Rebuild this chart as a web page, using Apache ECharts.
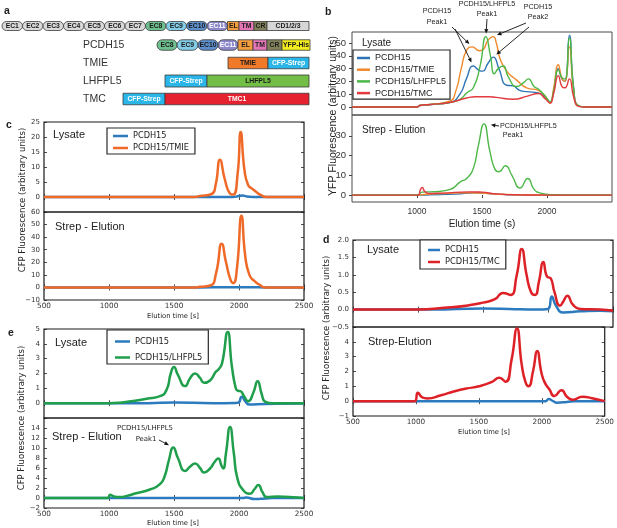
<!DOCTYPE html>
<html>
<head>
<meta charset="utf-8">
<title>PCDH15 complexes - FSEC traces</title>
<script src="https://cdn.jsdelivr.net/npm/echarts@6.0.0/dist/echarts.min.js"></script>
<style>
  html, body { margin: 0; padding: 0; background: #fff; }
  #container { width: 617px; height: 528px; }
</style>
</head>
<body>
<div id="container"></div>
<script>
// ---- a: constructs (domain names and their drawn lengths) ----
var fullDomains = ['EC1', 'EC2', 'EC3', 'EC4', 'EC5', 'EC6', 'EC7', 'EC8', 'EC9', 'EC10', 'EC11', 'EL', 'TM', 'CR', 'CD1/2/3'];
var fullLengths = [20.5, 20.5, 20.5, 20.5, 20.5, 20.5, 20.5, 20.5, 20.5, 20.5, 20.5, 11.5, 15, 13, 42];
var pcdh15Domains = ['EC8', 'EC9', 'EC10', 'EC11', 'EL', 'TM', 'CR', 'YFP-His'];
var pcdh15Lengths = [20, 21, 20, 20, 15, 14, 15, 28];
var tmieDomains = ['TMIE', 'CFP-Strep'];
var tmieLengths = [40, 41];
var lhfpl5Domains = ['CFP-Strep', 'LHFPL5'];
var lhfpl5Lengths = [42, 102];
var tmcDomains = ['CFP-Strep', 'TMC1'];
var tmcLengths = [42, 144];
var constructNames = ['', 'PCDH15', 'TMIE', 'LHFPL5', 'TMC'];

// ---- b: YFP FSEC  [elution time (s), signal] ----
var bLysPcdh = [[500, 0], [1000, 0], [1020, 1.2], [1100, 1.8], [1250, 3.5], [1330, 10], [1380, 22], [1433, 32], [1480, 28.5], [1505, 28], [1545, 34], [1587, 39], [1630, 30], [1690, 17], [1740, 16.5], [1790, 13], [1844, 12], [1933, 11], [1990, 7], [2023, 4], [2050, 12], [2087, 30], [2115, 22], [2138, 20], [2172, 56], [2205, 15], [2241, 1], [2300, 0], [2500, 0]];
var bLysTmie = [[500, 0], [1000, 0], [1020, 1.2], [1100, 2], [1250, 4.5], [1300, 13], [1340, 30], [1380, 44], [1425, 47], [1480, 44], [1510, 45], [1545, 52], [1587, 55], [1610, 50], [1638, 38], [1690, 28], [1767, 21], [1844, 15], [1933, 13], [1990, 8], [2023, 3], [2050, 14], [2087, 33], [2115, 22], [2138, 20], [2172, 47], [2205, 13], [2241, 1], [2300, 0], [2500, 0]];
var bLysLhfpl5 = [[500, 0], [1000, 0], [1020, 1.2], [1100, 2], [1250, 3.5], [1331, 6], [1382, 11], [1433, 15], [1485, 32], [1530, 55], [1565, 40], [1595, 26], [1625, 30], [1664, 32], [1700, 24], [1767, 16], [1820, 19], [1857, 22], [1900, 16], [1933, 14], [1990, 8], [2023, 4], [2050, 12], [2087, 29], [2115, 23], [2138, 22], [2172, 54], [2205, 14], [2241, 1], [2300, 0], [2500, 0]];
var bLysTmc = [[500, 0], [1000, 0], [1020, 1.2], [1100, 2], [1250, 3.5], [1382, 7], [1450, 8], [1550, 8], [1610, 7.5], [1740, 6], [1850, 8.5], [1933, 10.5], [1990, 6], [2023, 3], [2050, 10], [2087, 24.5], [2115, 16], [2138, 15], [2172, 22], [2205, 8], [2241, 0.5], [2300, 0], [2500, 0]];
var bStrPcdh = [[500, 0], [1000, 0], [1100, 0.1], [1300, 0.5], [1450, 1.2], [1550, 0.8], [1700, 0.2], [1900, 0], [2500, 0]];
var bStrTmie = [[500, 0], [1000, 0], [1050, 0.3], [1200, 0.8], [1400, 1.2], [1500, 1], [1600, 0.5], [1800, 0.1], [2000, 0], [2500, 0]];
var bStrLhfpl5 = [[500, 0], [1000, 0], [1040, 1.5], [1128, 1.7], [1256, 2.9], [1333, 6.7], [1382, 8.4], [1433, 13.5], [1472, 25], [1515, 36], [1561, 22], [1600, 13], [1631, 11.8], [1680, 14.8], [1730, 10], [1792, 3.6], [1852, 8.4], [1900, 3], [1950, 1], [2050, 0.2], [2200, 0], [2500, 0]];
var bStrTmc = [[500, 0], [1010, 0], [1025, 2.5], [1040, 3.8], [1060, 1.8], [1090, 0.8], [1200, 1], [1400, 1.6], [1500, 1.5], [1600, 0.6], [1800, 0.1], [2000, 0], [2500, 0]];

// ---- c: CFP FSEC, PCDH15 + TMIE ----
var cLysPcdh = [[500, 0], [1950, 0], [2000, 0.3], [2025, 0.5], [2060, 0.2], [2150, 0], [2500, 0]];
var cLysTmie = [[500, 0], [1650, 0], [1700, 0.3], [1790, 1], [1820, 4], [1854, 12.4], [1890, 6], [1930, 1.2], [1956, 0.8], [1990, 8], [2013, 21.7], [2042, 9], [2070, 4], [2100, 2.8], [2135, 1.6], [2170, 0.6], [2210, 0], [2500, 0]];
var cStrPcdh = [[500, 0], [1700, 0], [1900, 0.2], [2100, 0.2], [2200, 0], [2500, 0]];
var cStrTmie = [[500, 0], [1650, 0], [1700, 0.5], [1780, 1.5], [1825, 12], [1867, 34.8], [1900, 20], [1935, 6], [1956, 3.4], [1985, 16], [2019, 57], [2048, 25], [2080, 10], [2120, 5], [2160, 2], [2200, 0], [2500, 0]];

// ---- d: CFP FSEC, PCDH15 + TMC ----
var dLysPcdh = [[500, 0], [1100, 0], [1500, 0.03], [1700, 0.02], [1900, 0], [2000, 0.02], [2029, 0.38], [2060, 0.12], [2118, -0.08], [2250, -0.05], [2400, -0.03], [2500, -0.05]];
var dLysTmc = [[500, 0], [1000, 0], [1200, 0.05], [1385, 0.12], [1500, 0.2], [1592, 0.3], [1655, 0.48], [1712, 0.42], [1760, 1.0], [1798, 1.74], [1835, 1.0], [1870, 0.5], [1900, 0.42], [1930, 0.8], [1964, 1.37], [1992, 0.95], [2021, 0.9], [2050, 0.5], [2092, 0.11], [2120, 0.25], [2149, 0.4], [2190, 0.15], [2246, 0.02], [2400, 0], [2500, -0.03]];
var dStrPcdh = [[500, 0], [2030, 0], [2054, 0.15], [2090, 0], [2120, -0.1], [2200, -0.05], [2260, 0], [2500, 0]];
var dStrTmc = [[500, 0], [990, 0], [1015, 0.57], [1050, 0.25], [1090, 0.18], [1200, 0.4], [1300, 0.65], [1400, 0.85], [1502, 1.0], [1605, 1.3], [1662, 1.58], [1712, 1.31], [1760, 2.8], [1803, 4.9], [1840, 2.5], [1870, 1.3], [1895, 1.0], [1930, 2.0], [1964, 3.38], [1995, 2.0], [2021, 1.3], [2060, 0.8], [2100, 0.34], [2157, 0.74], [2200, 0.3], [2246, 0.1], [2323, 0.3], [2400, 0.2], [2500, 0]];

// ---- e: CFP FSEC, PCDH15 + LHFPL5 ----
var eLysPcdh = [[500, 0], [1300, 0], [1500, 0.05], [1800, 0], [1990, 0.02], [2021, 0.43], [2050, 0.1], [2080, -0.09], [2200, -0.05], [2500, -0.03]];
var eLysLhfpl5 = [[500, 0], [1000, 0], [1100, 0.05], [1185, 0.15], [1290, 0.3], [1392, 0.47], [1443, 0.9], [1475, 2.0], [1500, 2.43], [1530, 1.9], [1585, 1.15], [1625, 1.7], [1662, 2.0], [1700, 1.7], [1731, 1.37], [1777, 1.53], [1820, 2.1], [1845, 2.3], [1870, 2.7], [1913, 4.8], [1945, 2.5], [1975, 1.0], [1990, 0.85], [2013, 0.8], [2040, 0.45], [2071, 0.13], [2110, 0.7], [2143, 1.48], [2175, 0.6], [2200, 0.1], [2250, 0], [2500, 0]];
var eStrPcdh = [[500, 0], [2030, 0], [2055, 0.1], [2120, -0.2], [2200, -0.1], [2260, 0], [2500, 0]];
var eStrLhfpl5 = [[500, 0], [990, 0], [1008, 0.67], [1040, 0.3], [1080, 0.2], [1150, 0.5], [1200, 0.9], [1315, 1.7], [1392, 2.76], [1430, 4.5], [1460, 7.5], [1495, 10.1], [1530, 8.0], [1585, 5.4], [1625, 6.3], [1662, 6.9], [1700, 6.0], [1731, 5.1], [1777, 5.9], [1815, 7.3], [1841, 7.9], [1865, 6.5], [1879, 5.9], [1900, 9], [1931, 14.2], [1960, 9], [1987, 4], [2033, 1.55], [2085, 0.87], [2120, 1.8], [2149, 2.6], [2180, 1.2], [2213, 0.2], [2300, 0.3], [2450, 0.1], [2500, 0]];

// ---- tick labels ----
var timeTicks = [500, 1000, 1500, 2000, 2500];
var bTimeTicks = [1000, 1500, 2000];
var bLysTicks = [0, 10, 20, 30, 40, 50];
var bStrTicks = [0, 10, 20, 30];
var cLysTicks = [0, 5, 10, 15, 20, 25];
var cStrTicks = [-10, 0, 10, 20, 30, 40, 50, 60];
var dLysTicks = [-0.5, 0, 0.5, 1, 1.5, 2];
var dStrTicks = [-1, 0, 1, 2, 3, 4];
var eLysTicks = [0, 1, 2, 3, 4, 5];
var eStrTicks = [-2, 0, 2, 4, 6, 8, 10, 12, 14];

// ---- layout ----
var grids = [
    {left: 0, top: 0, width: 310, height: 120},      // a
    {left: 352, top: 32, width: 260, height: 83},    // b lysate
    {left: 352, top: 115, width: 260, height: 87},   // b strep
    {left: 44, top: 122, width: 260, height: 90},    // c lysate
    {left: 44, top: 212, width: 260, height: 88},    // c strep
    {left: 353, top: 240, width: 260, height: 87},   // d lysate
    {left: 353, top: 327, width: 260, height: 89},   // d strep
    {left: 44, top: 329, width: 260, height: 89},    // e lysate
    {left: 44, top: 418, width: 260, height: 90}     // e strep
];
var yRanges = [null, [-6.25, 58.6], [-3.5, 40.5], [-5, 25], [-10, 60], [-0.5, 2], [-1, 5], [-1, 5], [-2, 16]];
var yIntervals = [null, 10, 10, 5, 10, 0.5, 1, 1, 2];
var yLabelSets = [null, bLysTicks, bStrTicks, cLysTicks, cStrTicks, dLysTicks, dStrTicks, eLysTicks, eStrTicks];
var rowStarts = [2, 157, 228, 165, 123];
var rowCenters = [26, 45, 63, 81, 99];
var rowHeights = [9, 10.5, 11.5, 12, 11.5];

var MPL = 'DejaVu Sans';
var SANS = 'Liberation Sans';
var B = {blue: '#2f75b5', orange: '#f08a2c', green: '#4db847', red: '#e23a3f'};
var M = {blue: '#2c7bbf', orange: '#ef6a28', green: '#1f9f4b', red: '#de2027'};
var domainFill = {
    EC8: '#6fc08f', EC9: '#84cde6', EC10: '#5d8fcb', EC11: '#8d88ca', EL: '#f49d3f', TM: '#e376b6',
    CR: '#80805a', 'CD1/2/3': '#d6d6d6', 'YFP-His': '#f3ec1f', TMIE: '#f07a2a', 'CFP-Strep': '#2ab6e8',
    LHFPL5: '#72be46', TMC1: '#e52230'
};
var whiteText = {EC11: 1, 'CFP-Strep': 1, TMC1: 1};

// build schematic items
var rowsDomains = [fullDomains, pcdh15Domains, tmieDomains, lhfpl5Domains, tmcDomains];
var rowsLengths = [fullLengths, pcdh15Lengths, tmieLengths, lhfpl5Lengths, tmcLengths];
var schemeData = [], schemeNames = [];
rowsDomains.forEach(function (doms, r) {
    var x = rowStarts[r];
    doms.forEach(function (d, i) {
        schemeData.push([x, x + rowsLengths[r][i], r]);
        schemeNames.push(d);
        x += rowsLengths[r][i];
    });
});

function renderDomain(params, api) {
    var r = api.value(2);
    var name = schemeNames[params.dataIndex];
    var p0 = api.coord([api.value(0), rowCenters[r]]);
    var p1 = api.coord([api.value(1), rowCenters[r]]);
    var h = rowHeights[r];
    var oval = name.indexOf('EC') === 0;
    return {
        type: 'group',
        children: [{
            type: 'rect',
            shape: {x: p0[0], y: p0[1] - h / 2, width: p1[0] - p0[0], height: h, r: oval ? h / 2 : 0},
            style: {fill: domainFill[name] || '#d9d9d9', stroke: '#3a3a3a', lineWidth: 0.8}
        }, {
            type: 'text',
            style: {
                x: (p0[0] + p1[0]) / 2, y: p0[1] + 0.5, text: name,
                fill: whiteText[name] ? '#fff' : '#1a1a1a',
                font: 'bold 6.8px "' + SANS + '"', align: 'center', verticalAlign: 'middle'
            }
        }]
    };
}

function plainFmt(v) { return String(v).replace('-', '\u2212'); }
function oneDec(v) { return v.toFixed(1).replace('-', '\u2212'); }

// axes
var xAxes = [{gridIndex: 0, type: 'value', min: 0, max: 310, show: false}];
var yAxes = [{gridIndex: 0, type: 'value', min: 0, max: 120, inverse: true, show: false}];
var extraX = [], extraY = [];
for (var g = 1; g <= 8; g++) {
    var bStyle = g <= 2;
    var bottom = g % 2 === 0;
    if (bStyle) {
        xAxes.push({
            gridIndex: g, type: 'value', min: 500, max: 2500, show: bottom,
            axisLine: {show: false}, splitLine: {show: false},
            axisTick: {show: true, inside: false, length: 3, customValues: bTimeTicks, lineStyle: {color: '#444'}},
            axisLabel: {customValues: bTimeTicks, formatter: plainFmt, fontFamily: SANS, fontSize: 8.5, color: '#333', margin: 5}
        });
        yAxes.push({
            gridIndex: g, type: 'value', min: yRanges[g][0], max: yRanges[g][1],
            axisLine: {show: false}, splitLine: {show: false},
            axisTick: {show: true, inside: false, length: 3, customValues: yLabelSets[g], lineStyle: {color: '#444'}},
            axisLabel: {customValues: yLabelSets[g], formatter: plainFmt, fontFamily: SANS, fontSize: 9.5, color: '#333', margin: 6}
        });
    } else {
        var tickStyle = {show: true, inside: true, length: 3, lineStyle: {color: '#222', width: 0.8}};
        xAxes.push({
            gridIndex: g, type: 'value', min: 500, max: 2500, interval: 500,
            axisLine: {show: false}, splitLine: {show: false}, axisTick: tickStyle,
            axisLabel: {show: bottom, customValues: timeTicks, formatter: plainFmt, fontFamily: MPL, fontSize: 7.3, color: '#333', margin: 3}
        });
        extraX.push({
            gridIndex: g, type: 'value', min: 500, max: 2500, interval: 500, position: 'top',
            axisLine: {show: false}, splitLine: {show: false}, axisTick: tickStyle, axisLabel: {show: false}
        });
        yAxes.push({
            gridIndex: g, type: 'value', min: yRanges[g][0], max: yRanges[g][1], interval: yIntervals[g],
            axisLine: {show: false}, splitLine: {show: false}, axisTick: tickStyle,
            axisLabel: {
                customValues: yLabelSets[g], fontFamily: MPL, fontSize: 7, color: '#333', margin: 4,
                formatter: (g === 5) ? oneDec : plainFmt
            }
        });
        extraY.push({
            gridIndex: g, type: 'value', min: yRanges[g][0], max: yRanges[g][1], interval: yIntervals[g], position: 'right',
            axisLine: {show: false}, splitLine: {show: false}, axisTick: tickStyle, axisLabel: {show: false}
        });
    }
}
xAxes = xAxes.concat(extraX);
yAxes = yAxes.concat(extraY);

function curve(name, data, g, color, width, z) {
    return {
        type: 'line', name: name, data: data, xAxisIndex: g, yAxisIndex: g,
        smooth: 0.55, showSymbol: false, symbol: 'none',
        lineStyle: {color: color, width: width, join: 'round'}, itemStyle: {color: color}, z: z
    };
}

var series = [
    {
        type: 'custom', xAxisIndex: 0, yAxisIndex: 0, data: schemeData, clip: false,
        encode: {x: [0, 1], y: 2}, renderItem: renderDomain, silent: true
    },
    curve('PCDH15#b', bLysPcdh, 1, B.blue, 1.4, 3),
    curve('PCDH15/TMIE#b', bLysTmie, 1, B.orange, 1.4, 4),
    curve('PCDH15/LHFPL5#b', bLysLhfpl5, 1, B.green, 1.4, 5),
    curve('PCDH15/TMC#b', bLysTmc, 1, B.red, 1.4, 6),
    curve('PCDH15#bs', bStrPcdh, 2, B.blue, 1.4, 3),
    curve('PCDH15/TMIE#bs', bStrTmie, 2, B.orange, 1.4, 4),
    curve('PCDH15/LHFPL5#bs', bStrLhfpl5, 2, B.green, 1.4, 5),
    curve('PCDH15/TMC#bs', bStrTmc, 2, B.red, 1.4, 6),
    curve('PCDH15#c', cLysPcdh, 3, M.blue, 2.5, 3),
    curve('PCDH15/TMIE#c', cLysTmie, 3, M.orange, 2.5, 4),
    curve('PCDH15#cs', cStrPcdh, 4, M.blue, 2.5, 3),
    curve('PCDH15/TMIE#cs', cStrTmie, 4, M.orange, 2.5, 4),
    curve('PCDH15#d', dLysPcdh, 5, M.blue, 2.5, 3),
    curve('PCDH15/TMC#d', dLysTmc, 5, M.red, 2.5, 4),
    curve('PCDH15#ds', dStrPcdh, 6, M.blue, 2.5, 3),
    curve('PCDH15/TMC#ds', dStrTmc, 6, M.red, 2.5, 4),
    curve('PCDH15#e', eLysPcdh, 7, M.blue, 2.5, 3),
    curve('PCDH15/LHFPL5#e', eLysLhfpl5, 7, M.green, 2.5, 4),
    curve('PCDH15#es', eStrPcdh, 8, M.blue, 2.5, 3),
    curve('PCDH15/LHFPL5#es', eStrLhfpl5, 8, M.green, 2.5, 4)
];

function legendBox(names, left, top, font, size, lh, gap, iconW, pad) {
    return {
        data: names, left: left, top: top, orient: 'vertical', icon: 'rect',
        itemWidth: iconW, itemHeight: 2.5, itemGap: gap, padding: pad, selectedMode: false,
        borderColor: '#2a2a2a', borderWidth: 1.2, borderRadius: 0, backgroundColor: '#fff',
        formatter: function (n) { return n.split('#')[0]; },
        textStyle: {fontFamily: font, fontSize: size, lineHeight: lh, color: '#222'}, z: 10
    };
}

function txt(s, x, y, size, font, opts) {
    opts = opts || {};
    return {
        type: 'text', x: x, y: y, rotation: opts.rot || 0, z: 20,
        style: {
            text: s, fill: opts.color || '#222',
            font: (opts.bold ? 'bold ' : '') + size + 'px "' + font + '"',
            align: opts.align || 'left', verticalAlign: 'middle'
        }
    };
}

var labels = [
    txt('a', 4, 11, 10.5, SANS, {bold: true}),
    txt('b', 325, 12, 10.5, SANS, {bold: true}),
    txt('c', 6, 125, 10.5, SANS, {bold: true}),
    txt('d', 323, 240, 10.5, SANS, {bold: true}),
    txt('e', 8, 333, 10.5, SANS, {bold: true}),
    // b annotations
    txt('Lysate', 362, 43, 10, SANS),
    txt('Strep - Elution', 362, 130, 10, SANS),
    txt('Elution time (s)', 482, 224, 10, SANS, {align: 'center'}),
    txt('YFP Fluorescence (arbitrary units)', 333, 116, 10.5, SANS, {align: 'center', rot: Math.PI / 2}),
    txt('PCDH15', 437, 11, 7.2, SANS, {align: 'center'}),
    txt('Peak1', 437, 22, 7.2, SANS, {align: 'center'}),
    txt('PCDH15/LHFPL5', 487, 4.5, 7.2, SANS, {align: 'center'}),
    txt('Peak1', 487, 14.5, 7.2, SANS, {align: 'center'}),
    txt('PCDH15', 538, 7, 7.2, SANS, {align: 'center'}),
    txt('Peak2', 538, 17, 7.2, SANS, {align: 'center'}),
    txt('PCDH15/LHFPL5', 500, 126, 7.2, SANS),
    txt('Peak1', 513, 135.5, 7.2, SANS, {align: 'center'}),
    // c, d, e
    txt('Lysate', 53, 135, 11, SANS),
    txt('Strep - Elution', 55, 227, 11, SANS),
    txt('Elution time [s]', 173, 316, 6.8, MPL, {align: 'center'}),
    txt('CFP Fluorescence (arbitrary units)', 23, 200, 8.5, MPL, {align: 'center', rot: Math.PI / 2}),
    txt('Lysate', 367, 250, 11, SANS),
    txt('Strep-Elution', 368, 342, 11, SANS),
    txt('Elution time [s]', 484, 432, 6.8, MPL, {align: 'center'}),
    txt('CFP Fluorescence (arbitrary units)', 327, 328, 8.5, MPL, {align: 'center', rot: Math.PI / 2}),
    txt('Lysate', 55, 343, 11, SANS),
    txt('Strep - Elution', 52, 437, 11, SANS),
    txt('Elution time [s]', 173, 523, 6.8, MPL, {align: 'center'}),
    txt('CFP Fluorescence (arbitrary units)', 22, 418, 8.5, MPL, {align: 'center', rot: Math.PI / 2}),
    txt('PCDH15/LHFPL5', 145, 428, 6.9, MPL, {align: 'center'}),
    txt('Peak1', 146, 439, 6.9, MPL, {align: 'center'})
];
constructNames.forEach(function (n, r) {
    if (n) labels.push(txt(n, 83, rowCenters[r], 10.5, SANS, {color: '#333'}));
});

var myChart = echarts.init(document.getElementById('container'));
myChart.setOption({
    animation: false,
    backgroundColor: '#fff',
    grid: grids.map(function (gr, i) {
        return {
            left: gr.left, top: gr.top, width: gr.width, height: gr.height,
            show: i > 0, borderColor: i <= 2 ? '#4a4a4a' : '#1a1a1a', borderWidth: i <= 2 ? 1 : 1.2,
            backgroundColor: 'transparent'
        };
    }),
    xAxis: xAxes,
    yAxis: yAxes,
    legend: [
        legendBox(['PCDH15#b', 'PCDH15/TMIE#b', 'PCDH15/LHFPL5#b', 'PCDH15/TMC#b'], 353, 50, SANS, 9, 10, 1.7, 13, [3, 4, 1, 4]),
        legendBox(['PCDH15#c', 'PCDH15/TMIE#c'], 107, 128, MPL, 8.2, 10, 2, 15, [3, 6, 1, 6]),
        legendBox(['PCDH15#d', 'PCDH15/TMC#d'], 420, 240, MPL, 8.3, 10, 2, 12, [5, 6, 2, 8]),
        legendBox(['PCDH15#e', 'PCDH15/LHFPL5#e'], 107, 330, MPL, 8.3, 11, 5, 15, [6, 6, 1, 8])
    ],
    series: series,
    graphic: labels
});

// arrows pointing at peaks, tips placed from the data through the axes
function peakOf(data, t0, t1) {
    var best = null;
    data.forEach(function (p) {
        if (p[0] >= t0 && p[0] <= t1 && (!best || p[1] > best[1])) best = p;
    });
    return best;
}
function arrow(from, g, pt, gap) {
    var to = myChart.convertToPixel({xAxisIndex: g, yAxisIndex: g}, pt);
    var dx = to[0] - from[0], dy = to[1] - from[1], len = Math.sqrt(dx * dx + dy * dy);
    var ux = dx / len, uy = dy / len;
    var tx = to[0] - ux * gap, ty = to[1] - uy * gap;
    var bx = tx - ux * 4.5, by = ty - uy * 4.5;
    return [{
        type: 'line', z: 20, shape: {x1: from[0], y1: from[1], x2: bx, y2: by},
        style: {stroke: '#111', lineWidth: 0.9}
    }, {
        type: 'polygon', z: 20,
        shape: {points: [[tx, ty], [bx - uy * 2, by + ux * 2], [bx + uy * 2, by - ux * 2]]},
        style: {fill: '#111'}
    }];
}
var arrows = [].concat(
    arrow([452, 27], 1, peakOf(bLysTmie, 1380, 1470), 4),
    arrow([455, 29], 1, peakOf(bLysPcdh, 1380, 1470), 4),
    arrow([487, 19], 1, peakOf(bLysLhfpl5, 1480, 1560), 3),
    arrow([526, 23], 1, peakOf(bLysTmie, 1560, 1620), 4),
    arrow([529, 27], 1, peakOf(bLysPcdh, 1560, 1620), 4),
    arrow([499, 126], 2, peakOf(bStrLhfpl5, 1480, 1560), 7),
    arrow([159, 440], 8, peakOf(eStrLhfpl5, 1450, 1550), 5)
);
myChart.setOption({graphic: labels.concat(arrows)});
</script>
</body>
</html>
